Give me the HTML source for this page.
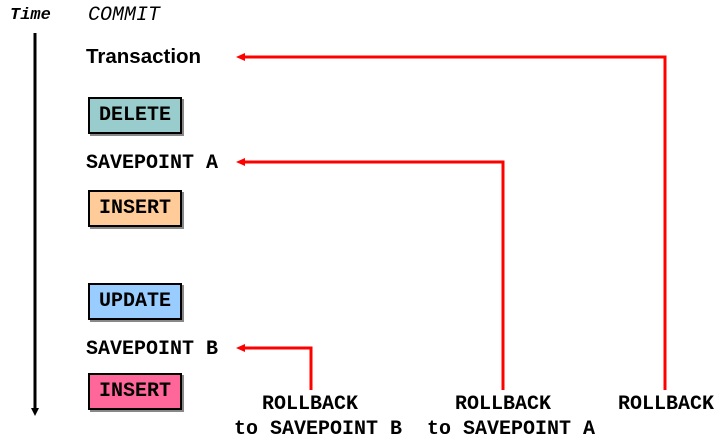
<!DOCTYPE html>
<html><head><style>
body{margin:0;width:723px;height:442px;background:#fff;position:relative;overflow:hidden;font-family:"Liberation Mono",monospace;font-weight:bold}
.t{position:absolute;white-space:nowrap;line-height:22px}
.m{font-size:20px}
.box{position:absolute;left:88px;width:90px;height:33px;border:2px solid #000;box-shadow:2px 2px 0 #888;font-size:20px;text-align:center;line-height:33px}
</style></head><body>
<div class="t" style="left:10px;top:5px;font-size:17px;font-style:italic">Time</div>
<div class="t" style="left:88px;top:5px;font-size:20px;font-style:italic;font-weight:normal">COMMIT</div>
<div class="t" style="left:86px;top:46px;font-family:'Liberation Sans',sans-serif;font-size:20.5px">Transaction</div>
<div class="box" style="top:97px;background:#99cccc">DELETE</div>
<div class="t m" style="left:86px;top:153px">SAVEPOINT A</div>
<div class="box" style="top:190px;background:#ffcc99">INSERT</div>
<div class="box" style="top:283px;background:#99ccff">UPDATE</div>
<div class="t m" style="left:86px;top:339px">SAVEPOINT B</div>
<div class="box" style="top:373px;background:#ff6699">INSERT</div>
<div class="t m" style="left:262px;top:394px">ROLLBACK</div>
<div class="t m" style="left:234px;top:419px">to SAVEPOINT B</div>
<div class="t m" style="left:455px;top:394px">ROLLBACK</div>
<div class="t m" style="left:427px;top:419px">to SAVEPOINT A</div>
<div class="t m" style="left:618px;top:394px">ROLLBACK</div>
<svg width="723" height="442" style="position:absolute;left:0;top:0">
<line x1="35" y1="33" x2="35" y2="410" stroke="#000" stroke-width="3"/>
<polygon points="31,408 39,408 35,416" fill="#000"/>
<g stroke="#f00" stroke-width="3" fill="none">
<polyline points="665,390 665,57 244,57"/>
<polyline points="503,390 503,162 244,162"/>
<polyline points="311,390 311,348 244,348"/>
</g>
<g fill="#f00">
<polygon points="236,57 245,53 245,61"/>
<polygon points="236,162 245,158 245,166"/>
<polygon points="236,348 245,344 245,352"/>
</g>
</svg>
</body></html>
